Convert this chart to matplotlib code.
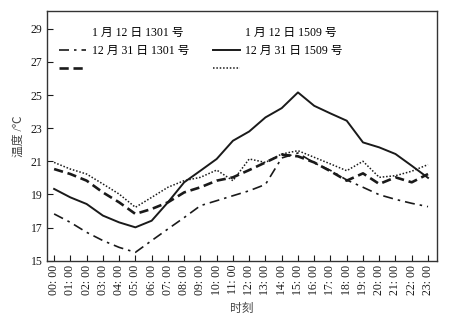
import matplotlib
matplotlib.use("Agg")
import matplotlib.pyplot as plt
from matplotlib.lines import Line2D

plt.rcParams['font.family'] = ['Liberation Serif', 'Noto Sans CJK SC']
plt.rcParams['axes.unicode_minus'] = False

# hourly temperatures (°C)
hours = list(range(24))
hour_labels = [f"{h:02d}: 00" for h in hours]

temp_0112_1301 = [17.82, 17.31, 16.71, 16.21, 15.80, 15.50, 16.21, 16.91,
                  17.60, 18.32, 18.62, 18.92, 19.22, 19.60, 21.20, 21.50,
                  20.90, 20.45, 19.87, 19.43, 18.98, 18.70, 18.46, 18.26]
temp_0112_1509 = [19.33, 18.82, 18.42, 17.72, 17.31, 17.01, 17.41, 18.52,
                  19.73, 20.43, 21.14, 22.24, 22.80, 23.65, 24.21, 25.16,
                  24.35, 23.89, 23.45, 22.14, 21.84, 21.44, 20.73, 20.00]
temp_1231_1301 = [20.53, 20.23, 19.83, 19.12, 18.52, 17.82, 18.12, 18.52,
                  19.12, 19.43, 19.83, 20.03, 20.47, 20.93, 21.40, 21.30,
                  20.93, 20.40, 19.83, 20.27, 19.63, 20.03, 19.73, 20.23]
temp_1231_1509 = [20.93, 20.53, 20.23, 19.63, 19.02, 18.22, 18.82, 19.43,
                  19.83, 20.03, 20.47, 19.83, 21.14, 20.93, 21.44, 21.64,
                  21.24, 20.84, 20.43, 21.00, 20.03, 20.13, 20.40, 20.80]

y_ticks = [15, 17, 19, 21, 23, 25, 27, 29]

fig = plt.figure(figsize=(4.5, 3.27), dpi=100)
ax = fig.add_axes([0.104, 0.203, 0.867, 0.763])

ink = '#1a1a1a'
l1, = ax.plot(hours, temp_0112_1301, color=ink, lw=1.2, linestyle=(0, (6, 3, 1.5, 3)))
l2, = ax.plot(hours, temp_0112_1509, color=ink, lw=1.4, linestyle='-')
l3, = ax.plot(hours, temp_1231_1301, color=ink, lw=1.9, linestyle=(0, (3.5, 1.8)))
l4, = ax.plot(hours, temp_1231_1509, color=ink, lw=1.1, linestyle=(0, (1, 1.2)))

ax.set_xlim(-0.45, 23.55)
ax.set_ylim(15, 30.07)
ax.set_yticks(y_ticks)
ax.set_xticks(hours)
ax.set_xticklabels(hour_labels, rotation=90, fontsize=8.5)
ax.tick_params(axis='y', labelsize=8.5)
ax.tick_params(direction='in', length=4, width=0.8, colors=ink, pad=3)
for s in ax.spines.values():
    s.set_linewidth(1.0)
    s.set_color('#333333')

ax.set_ylabel('温度 /℃', fontsize=8.5, color='#444444', labelpad=4)
ax.set_xlabel('时刻', fontsize=8.5, color='#444444', labelpad=6)

# legend: labels sit one row above their line samples
blank = Line2D([], [], color='none')
handles = [blank, l1, l3, blank, l2, l4]
labels = ['1 月 12 日 1301 号', '12 月 31 日 1301 号', '',
          '1 月 12 日 1509 号', '12 月 31 日 1509 号', '']
ax.legend(handles, labels, ncol=2, frameon=False, fontsize=8.5,
          loc='upper left', bbox_to_anchor=(0.02, 0.955),
          handlelength=2.3, handletextpad=0.45, columnspacing=2.0,
          labelspacing=0.5, borderaxespad=0.0)

fig.savefig('out.png', dpi=100)
